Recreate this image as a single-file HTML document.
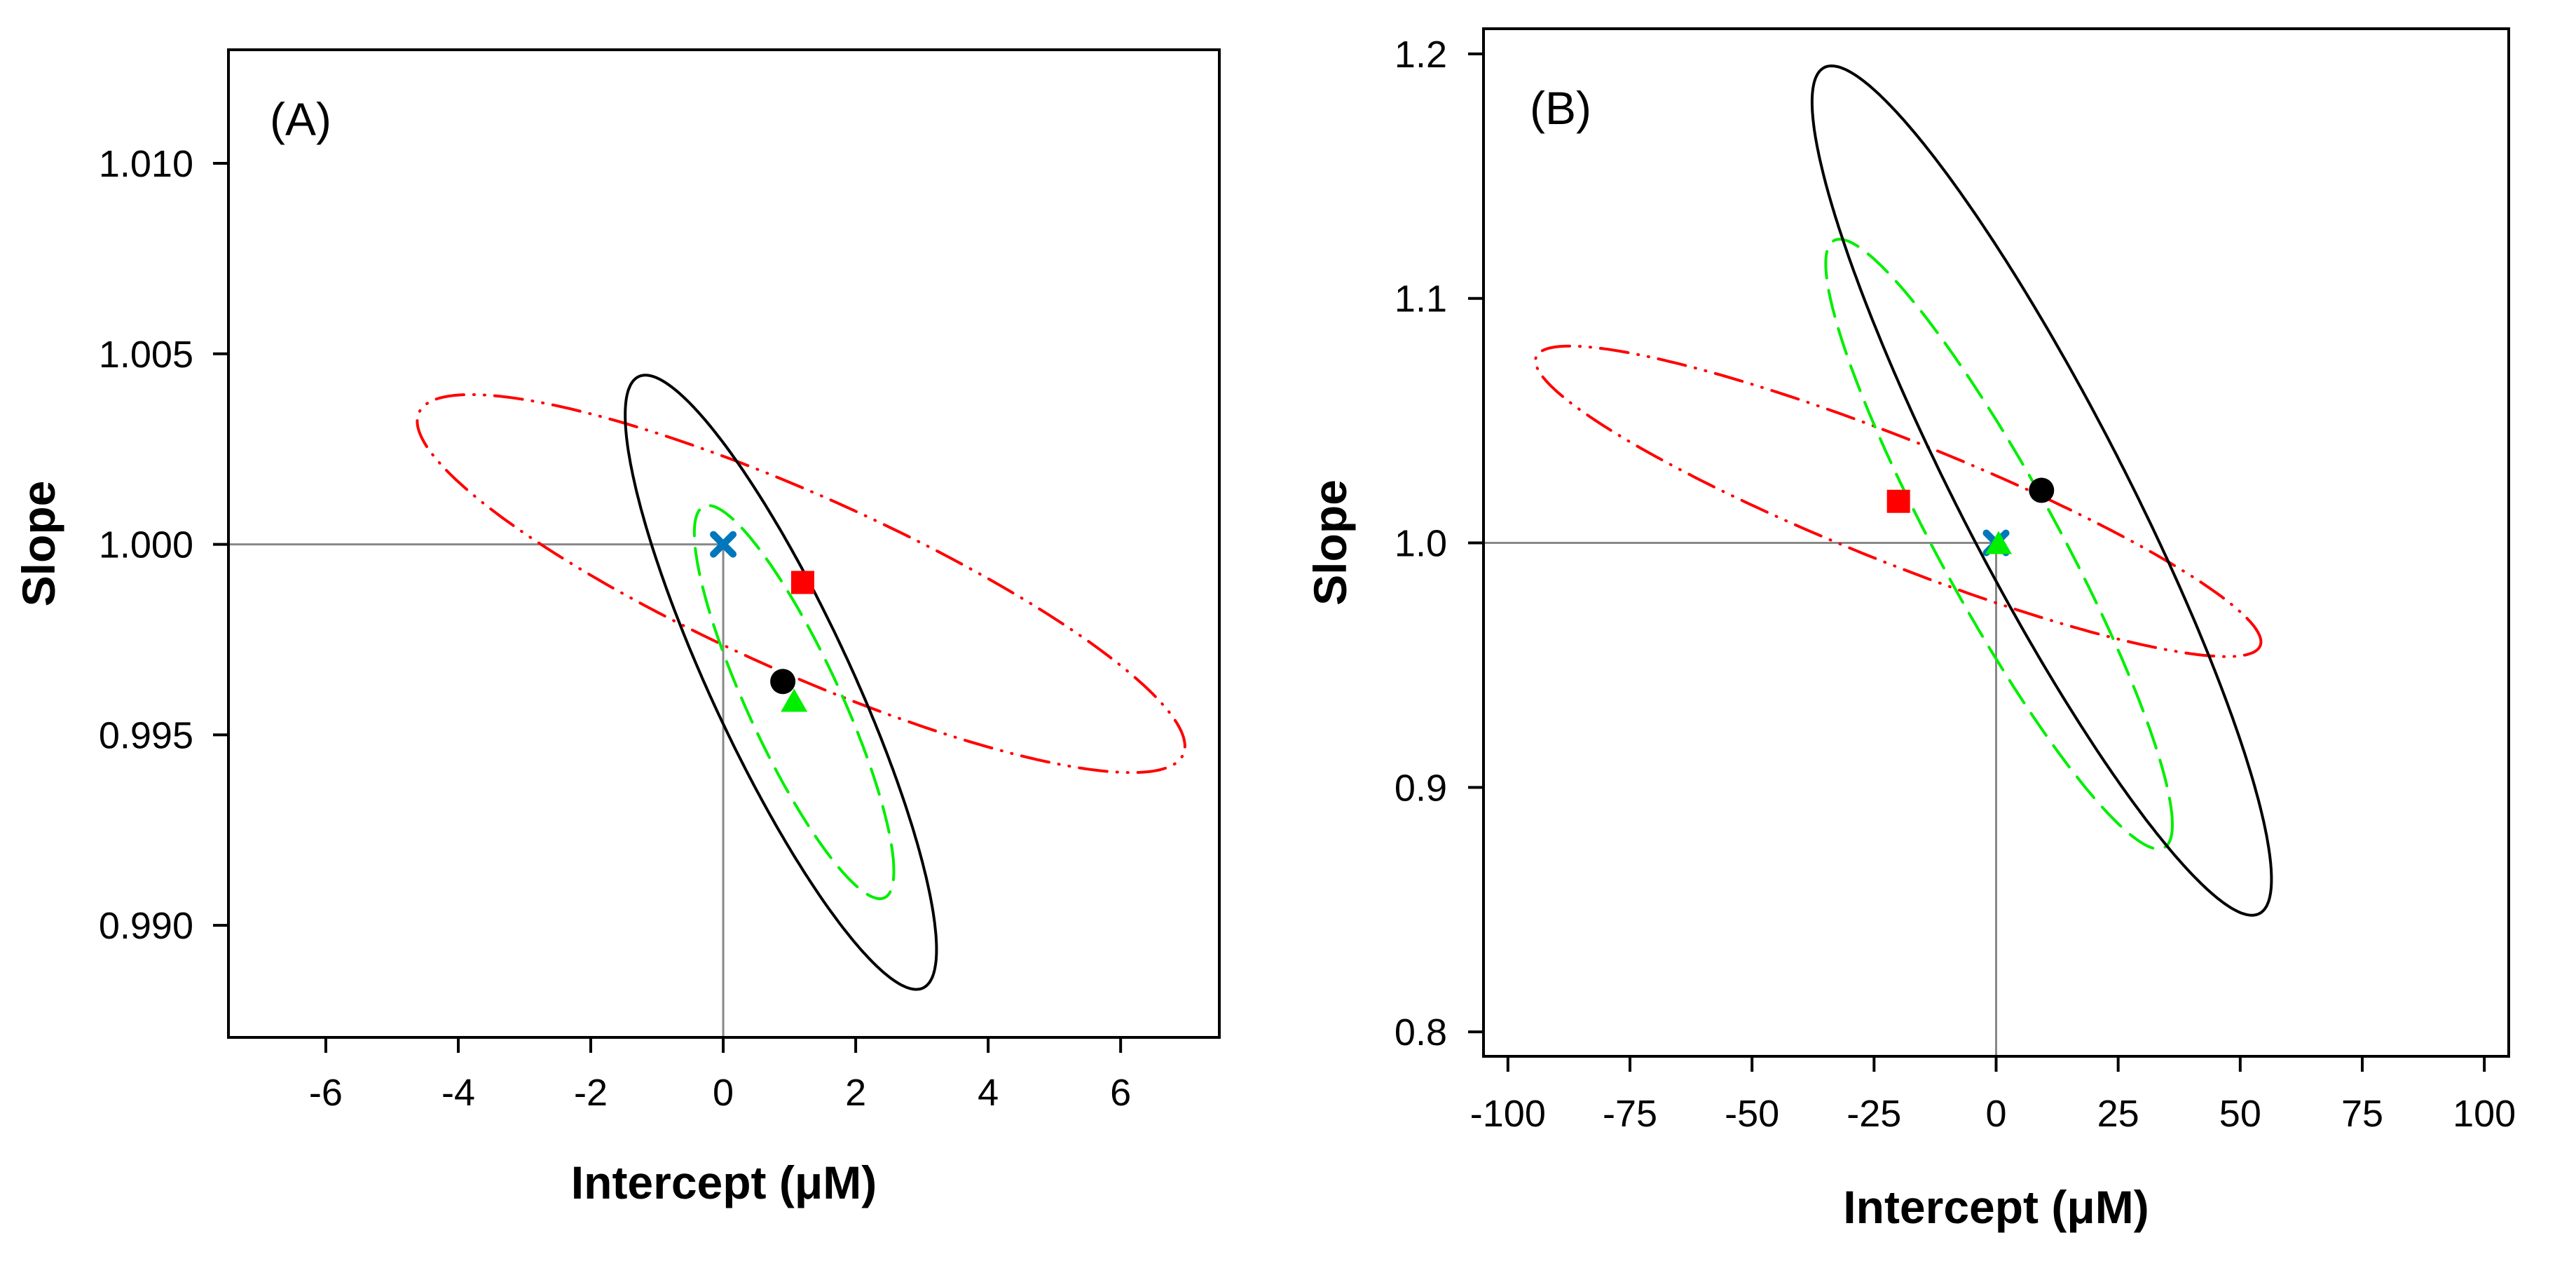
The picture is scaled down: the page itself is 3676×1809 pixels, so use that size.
<!DOCTYPE html>
<html><head><meta charset="utf-8"><style>
html,body{margin:0;padding:0;background:#fff;}
svg text{font-family:"Liberation Sans",Arial,sans-serif;}
</style></head><body>
<svg id="fig" width="3676" height="1804" viewBox="0 0 3676 1804" xmlns="http://www.w3.org/2000/svg"></svg>
<script>
// Panel A data
const aXTicks=[-6,-4,-2,0,2,4,6];
const aYTicks=[0.990,0.995,1.000,1.005,1.010];
// ellipses: [cx, cy, sx, sy, r]
const aBlack=[0.87,0.99638,2.35,0.00806,-0.87];
const aGreen=[1.07,0.99586,1.506,0.00516,-0.86];
const aRed=[1.175,0.99897,5.795,0.00496,-0.86];
const aDot=[0.9,0.9964];
const aSquare=[1.2,0.9990];
const aTriangle=[1.07,0.9959];
const aCross=[0,1.0];
// Panel B data
const bXTicks=[-100,-75,-50,-25,0,25,50,75,100];
const bYTicks=[0.8,0.9,1.0,1.1,1.2];
const bBlack=[9.35,1.0214,47.05,0.1737,-0.915];
const bGreen=[0.6,0.9995,35.5,0.1247,-0.92];
const bRed=[-20.06,1.017,74.3,0.0635,-0.905];
const bDot=[9.3,1.0215];
const bSquare=[-20,1.017];
const bTriangle=[0.5,1.0];
const bCross=[0,1.0];

const NS="http://www.w3.org/2000/svg";
const svg=document.getElementById('fig');
function mk(tag,attrs,parent){const e=document.createElementNS(NS,tag);for(const k in attrs)e.setAttribute(k,attrs[k]);(parent||svg).appendChild(e);return e;}

function panel(cfg){
  const g=mk('g',{});
  
  
  const sx=v=>cfg.L+(v-cfg.x0)/(cfg.x1-cfg.x0)*(cfg.R-cfg.L);
  const sy=v=>cfg.B-(v-cfg.y0)/(cfg.y1-cfg.y0)*(cfg.B-cfg.T);
  const h=mk('line',{x1:cfg.L,y1:sy(1),x2:sx(0),y2:sy(1),stroke:'#888',"stroke-width":3},g);
  
  
  const v=mk('line',{x1:sx(0),y1:sy(1),x2:sx(0),y2:cfg.B,stroke:'#888',"stroke-width":3},g);
  
  
  function ell(p,color,dash,w,name){
    let d='';
    for(let i=0;i<=360;i++){const t=i/360*2*Math.PI;
      const x=p[0]+p[2]*Math.cos(t);
      const y=p[1]+p[3]*(p[4]*Math.cos(t)+Math.sqrt(1-p[4]*p[4])*Math.sin(t));
      d+=(i?'L':'M')+sx(x).toFixed(1)+' '+sy(y).toFixed(1);}
    const e=mk('path',{d:d+'Z',fill:'none',stroke:color,"stroke-width":w,"stroke-dasharray":dash,"stroke-linecap":"round"},g);
    
    
  }
  ell(cfg.red,'#ff0000','40 14 1 14 1 14',4,'confidence-ellipse-red');
  ell(cfg.green,'#00ee00','38 18',4,'confidence-ellipse-green');
  ell(cfg.black,'#000','',4,'confidence-ellipse-black');
  const c=mk('circle',{cx:sx(cfg.dot[0]),cy:sy(cfg.dot[1]),r:18,fill:'#000'},g);
  
  
  const s=mk('rect',{x:sx(cfg.square[0])-16.5,y:sy(cfg.square[1])-16.5,width:33,height:33,fill:'#ff0000'},g);
  
  
  const tx=sx(cfg.tri[0]),ty=sy(cfg.tri[1]);
  const tr=mk('polygon',{points:`${tx-19},${ty+16} ${tx+19},${ty+16} ${tx},${ty-17}`,fill:'#00ee00'},g);
  
  
  const cx=sx(cfg.cross[0]),cy=sy(cfg.cross[1]);
  const cr=mk('path',{d:`M${cx-14} ${cy-14}L${cx+14} ${cy+14}M${cx+14} ${cy-14}L${cx-14} ${cy+14}`,stroke:'#0077bb',"stroke-width":10,"stroke-linecap":"round"},g);
  
  
  if(cfg.crossFirst){g.insertBefore(cr,tr);}
  const f=mk('rect',{x:cfg.L,y:cfg.T,width:cfg.R-cfg.L,height:cfg.B-cfg.T,fill:'none',stroke:'#000',"stroke-width":4},g);
  
  
  cfg.xt.forEach(t=>{
    const x=sx(t);
    const tk=mk('line',{x1:x,y1:cfg.B,x2:x,y2:cfg.B+22,stroke:'#000',"stroke-width":4},g);
    
    
    const tl=mk('text',{x:x,y:cfg.xly,"font-size":54,"text-anchor":"middle"},g);
    tl.textContent=String(t);
    
    
  });
  cfg.yt.forEach(t=>{
    const y=sy(t);
    const tk=mk('line',{x1:cfg.L-22,y1:y,x2:cfg.L,y2:y,stroke:'#000',"stroke-width":4},g);
    
    
    const tl=mk('text',{x:cfg.ylx,y:y+19,"font-size":54,"text-anchor":"end"},g);
    tl.textContent=t.toFixed(cfg.dec);
    
    
  });
  const xt=mk('text',{x:(cfg.L+cfg.R)/2,y:cfg.xty,"font-size":66,"font-weight":"bold","text-anchor":"middle"},g);
  xt.textContent='Intercept (\u03BCM)';
  
  
  const yt=mk('text',{x:0,y:0,"font-size":66,"font-weight":"bold","text-anchor":"middle",transform:`translate(${cfg.ytx},${(cfg.T+cfg.B)/2}) rotate(-90)`},g);
  yt.textContent='Slope';
  
  
  const pl=mk('text',{x:cfg.labx,y:cfg.laby,"font-size":66},g);
  pl.textContent=cfg.label;
  
  
}

panel({name:'panel-a',L:326,R:1740,T:71,B:1480,x0:-7.47,x1:7.49,y0:0.98706,y1:1.01298,
  xt:aXTicks,yt:aYTicks,dec:3,black:aBlack,green:aGreen,red:aRed,dot:aDot,square:aSquare,tri:aTriangle,cross:aCross,
  xly:1577,ylx:276,xty:1710,ytx:78,labx:385,laby:193,label:'(A)'});
panel({name:'panel-b',L:2117,R:3580,T:41,B:1507,x0:-105,x1:105,y0:0.790,y1:1.2103,
  xt:bXTicks,yt:bYTicks,dec:1,black:bBlack,green:bGreen,red:bRed,dot:bDot,square:bSquare,tri:bTriangle,cross:bCross,crossFirst:true,
  xly:1607,ylx:2065,xty:1745,ytx:1921,labx:2183,laby:177,label:'(B)'});
</script>
</body></html>
